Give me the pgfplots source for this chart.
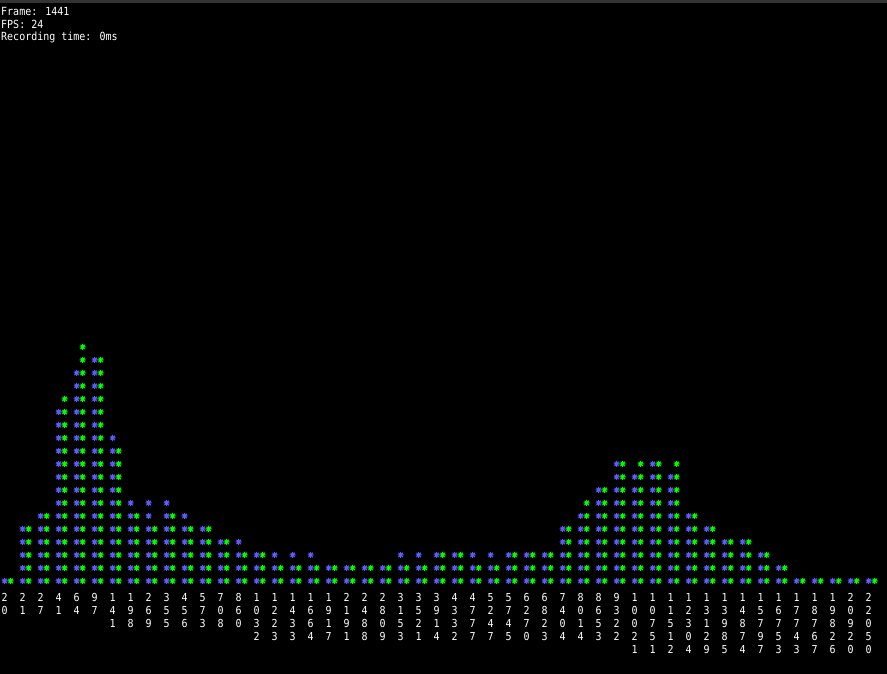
\documentclass[border=0pt]{standalone}
\usepackage{graphicx}
\usepackage{fontspec}
\usepackage{pgfplots}
\pgfplotsset{compat=1.18}
\usepackage{pgfplotstable}
\newfontfamily\term{DejaVu Sans Mono}
\definecolor{tblue}{HTML}{5C5CFF}
\definecolor{tgreen}{HTML}{00FF00}
\definecolor{tbar}{HTML}{333333}

\pgfplotstableread{
k label blue green
0 20 1 1
1 21 5 5
2 27 6 6
3 41 14 15
4 64 17 19
5 97 18 18
6 141 12 11
7 198 7 6
8 269 7 5
9 355 7 6
10 456 6 5
11 573 5 5
12 708 4 4
13 860 4 3
14 1032 3 3
15 1223 3 2
16 1433 3 2
17 1664 3 2
18 1917 2 2
19 2191 2 2
20 2488 2 2
21 2809 2 2
22 3153 3 2
23 3521 3 2
24 3914 3 3
25 4332 3 3
26 4777 3 2
27 5247 3 2
28 5745 3 3
29 6270 3 3
30 6823 3 3
31 7404 5 5
32 8014 6 7
33 8653 8 8
34 9322 10 10
35 10021 9 10
36 10751 10 10
37 11512 9 10
38 12304 6 6
39 13129 5 5
40 13985 4 4
41 14874 4 4
42 15797 3 3
43 16753 2 2
44 17743 1 1
45 18767 1 1
46 19826 1 1
47 20920 1 1
48 22050 1 1
}\histdata

% vertical digit stack for tick labels
\newcommand\vd[1]{\vbox{\offinterlineskip\vdaux#1\relax}}
\def\vdaux#1{\ifx\relax#1\else\hbox to 6pt{\hss\vbox to 13pt{\vss\hbox{\scalebox{1}[1.1]{#1}}\vss}\hss}\expandafter\vdaux\fi}

% a column of asterisks drawn as one plot mark, going down from the data point
\newcount\stk
\newdimen\sty
\def\stackrow#1{%
  \ifnum\stk<\nst
    \sty=-13pt \multiply\sty by \stk \advance\sty by -6.5pt
    \pgfpathmoveto{\pgfpoint{#1-3pt}{\sty}}\pgfpathlineto{\pgfpoint{#1+3pt}{\sty}}%
    \pgfpathmoveto{\pgfpoint{#1}{\sty-3pt}}\pgfpathlineto{\pgfpoint{#1}{\sty+3pt}}%
    \pgfpathmoveto{\pgfpoint{#1-2.2pt}{\sty-2.2pt}}\pgfpathlineto{\pgfpoint{#1+2.2pt}{\sty+2.2pt}}%
    \pgfpathmoveto{\pgfpoint{#1-2.2pt}{\sty+2.2pt}}\pgfpathlineto{\pgfpoint{#1+2.2pt}{\sty-2.2pt}}%
    \advance\stk by 1
    \expandafter\stackrow\expandafter{#1}%
  \fi}
\newcommand\drawstack[1]{%
  \pgfmathtruncatemacro\nst{\Hval}%
  \stk=0
  \stackrow{#1}%
  \pgfusepathqstroke}
\pgfdeclareplotmark{stackL}{\drawstack{0pt}}
\pgfdeclareplotmark{stackR}{\drawstack{6pt}}

\begin{document}
\begin{tikzpicture}
\fill[black] (0,0) rectangle (887pt,674pt);
\fill[tbar] (0,671.3pt) rectangle (887pt,674pt);
\begin{axis}[
  anchor=origin, at={(4.7pt,86.5pt)},
  x=18pt, y=13pt,
  xmin=-0.2611, xmax=49.0167, ymin=0, ymax=45.19,
  axis line style={draw=none}, tick style={draw=none},
  ytick=\empty, xtick={0,...,48},
  xticklabels={\vd{20},\vd{21},\vd{27},\vd{41},\vd{64},\vd{97},\vd{141},\vd{198},\vd{269},\vd{355},\vd{456},\vd{573},\vd{708},\vd{860},\vd{1032},\vd{1223},\vd{1433},\vd{1664},\vd{1917},\vd{2191},\vd{2488},\vd{2809},\vd{3153},\vd{3521},\vd{3914},\vd{4332},\vd{4777},\vd{5247},\vd{5745},\vd{6270},\vd{6823},\vd{7404},\vd{8014},\vd{8653},\vd{9322},\vd{10021},\vd{10751},\vd{11512},\vd{12304},\vd{13129},\vd{13985},\vd{14874},\vd{15797},\vd{16753},\vd{17743},\vd{18767},\vd{19826},\vd{20920},\vd{22050}},
  xticklabel style={anchor=north, inner sep=0pt, yshift=-3pt, text=white, font=\term\fontsize{10}{13}\selectfont},
  clip=false,
]
\addplot[only marks, mark=stackL, color=tblue, line width=1pt,
  visualization depends on={rawy\as\Hval}]
  table[x=k,y=blue] {\histdata};
\addplot[only marks, mark=stackR, color=tgreen, line width=1pt,
  visualization depends on={rawy\as\Hval}]
  table[x=k,y=green] {\histdata};
\end{axis}
\begin{scope}[every node/.style={anchor=base west, inner sep=0pt, text=white, font=\term\fontsize{10}{12}\selectfont}]
\node at (1pt,658pt) {\scalebox{1}[1.12]{Frame: 1441}};
\node at (1pt,645.4pt) {\scalebox{1}[1.12]{FPS: 24}};
\node at (1pt,633.2pt) {\scalebox{1}[1.12]{Recording time: 0ms}};
\end{scope}
\pgfresetboundingbox
\useasboundingbox (0,0) rectangle (887pt,674pt);
\end{tikzpicture}
\end{document}
